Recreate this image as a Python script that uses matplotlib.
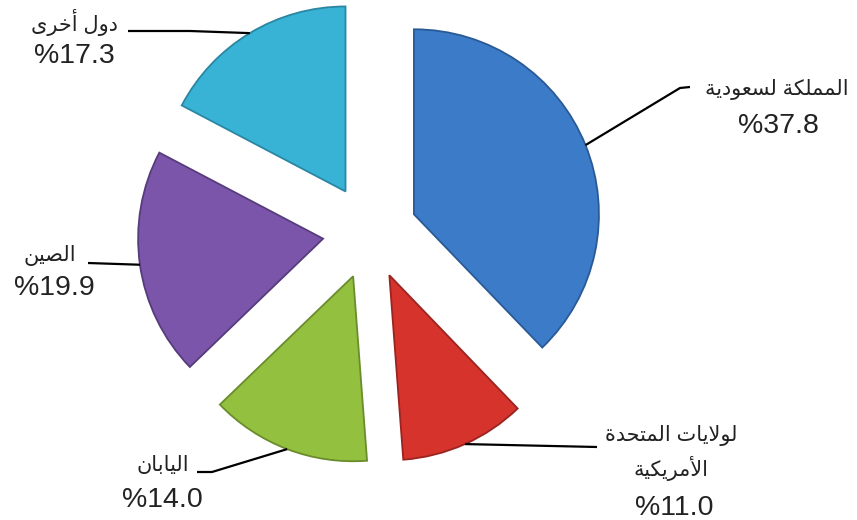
import numpy as np
import matplotlib.pyplot as plt

# =========================
# DATOS
# =========================

paises = ["المملكة لسعودية", "لولايات المتحدة\nالأمريكية", "اليابان", "الصين", "دول أخرى"]
porcentajes = [37.8, 11.0, 14.0, 19.9, 17.3]
etiquetas_pct = ["%37.8", "%11.0", "%14.0", "%19.9", "%17.3"]
colores = ["#3b7bc8", "#d5332c", "#93c03f", "#7b55aa", "#38b3d6"]
bordes = ["#2a5a96", "#9a2420", "#6a8c2c", "#563c7c", "#2a86a2"]

# =========================
# FORMAS ARABES (matplotlib no hace shaping)
# =========================

FORMAS = {
    "ا": ("\ufe8d", "\ufe8e", None, None),
    "أ": ("\ufe83", "\ufe84", None, None),
    "ب": ("\ufe8f", "\ufe90", "\ufe91", "\ufe92"),
    "ة": ("\ufe93", "\ufe94", None, None),
    "ت": ("\ufe95", "\ufe96", "\ufe97", "\ufe98"),
    "ح": ("\ufea1", "\ufea2", "\ufea3", "\ufea4"),
    "خ": ("\ufea5", "\ufea6", "\ufea7", "\ufea8"),
    "د": ("\ufea9", "\ufeaa", None, None),
    "ر": ("\ufead", "\ufeae", None, None),
    "س": ("\ufeb1", "\ufeb2", "\ufeb3", "\ufeb4"),
    "ص": ("\ufeb9", "\ufeba", "\ufebb", "\ufebc"),
    "ع": ("\ufec9", "\ufeca", "\ufecb", "\ufecc"),
    "ك": ("\ufed9", "\ufeda", "\ufedb", "\ufedc"),
    "ل": ("\ufedd", "\ufede", "\ufedf", "\ufee0"),
    "م": ("\ufee1", "\ufee2", "\ufee3", "\ufee4"),
    "ن": ("\ufee5", "\ufee6", "\ufee7", "\ufee8"),
    "و": ("\ufeed", "\ufeee", None, None),
    "ى": ("\ufeef", "\ufef0", None, None),
    "ي": ("\ufef1", "\ufef2", "\ufef3", "\ufef4"),
}
LAM_ALEF = {"ا": ("\ufefb", "\ufefc"), "أ": ("\ufef7", "\ufef8")}


def dar_forma(linea):
    """Convierte una linea arabe a formas de presentacion en orden visual."""
    out = []
    i = 0
    n = len(linea)
    while i < n:
        c = linea[i]
        if c not in FORMAS:
            out.append(c)
            i += 1
            continue
        prev = linea[i - 1] if i > 0 else None
        une_prev = prev in FORMAS and FORMAS[prev][2] is not None
        if c == "ل" and i + 1 < n and linea[i + 1] in LAM_ALEF:
            out.append(LAM_ALEF[linea[i + 1]][1 if une_prev else 0])
            i += 2
            continue
        nxt = linea[i + 1] if i + 1 < n else None
        une_next = FORMAS[c][2] is not None and nxt in FORMAS
        iso, fin, ini, med = FORMAS[c]
        if une_prev and une_next:
            g = med
        elif une_prev:
            g = fin
        elif une_next:
            g = ini
        else:
            g = iso
        out.append(g)
        i += 1
    return "".join(reversed(out))


def arabe(texto):
    return "\n".join(dar_forma(l) for l in texto.split("\n"))


# =========================
# GRAFICO
# =========================

plt.rcParams["font.family"] = ["Liberation Sans", "DejaVu Sans"]

W, H = 857, 520
fig = plt.figure(figsize=(W / 100, H / 100), dpi=100)
ax = fig.add_axes([0, 0, 1, 1])

wedges, _ = ax.pie(
    porcentajes,
    colors=colores,
    startangle=90,
    counterclock=False,
    explode=[0.256] * len(porcentajes),
    radius=1,
    wedgeprops=dict(linewidth=1.3),
)
for w, b in zip(wedges, bordes):
    w.set_edgecolor(b)

# 1 unidad = 185 px, centro del pie en (370, 232) px
escala = 185.0
cx, cy = 370.0, 232.0
ax.set_xlim(-cx / escala, (W - cx) / escala)
ax.set_ylim(-(H - cy) / escala, cy / escala)
ax.set_aspect("auto")
ax.axis("off")


def px(x, y):
    return ((x - cx) / escala, (cy - y) / escala)


# codo de la linea guia y posicion del texto (px)
codos = [[(680, 88), (690, 87)], [(597, 447)], [(212, 472), (197, 472)],
         [(88, 263)], [(190, 31), (128, 31)]]
pos_arabe = [(777, 89), (671, 453), (163, 465), (50, 256), (74, 22)]
pos_pct = [(778, 133), (674, 515), (162, 507), (54, 295), (74, 63)]

for i, w in enumerate(wedges):
    ang = np.deg2rad((w.theta1 + w.theta2) / 2)
    x0 = w.center[0] + w.r * np.cos(ang)
    y0 = w.center[1] + w.r * np.sin(ang)
    xs = [x0] + [px(*p)[0] for p in codos[i]]
    ys = [y0] + [px(*p)[1] for p in codos[i]]
    ax.plot(xs, ys, color="black", linewidth=1.6, solid_capstyle="butt")

    xa, ya = pos_arabe[i]
    fig.text(xa / W, 1 - ya / H, arabe(paises[i]), ha="center", va="center",
             fontsize=15, color="#222222", multialignment="center", linespacing=1.5)
    xp, yp = pos_pct[i]
    fig.text(xp / W, 1 - yp / H, etiquetas_pct[i], ha="center", va="baseline",
             fontsize=20.5, color="#222222")

fig.savefig("out.png", dpi=100)
